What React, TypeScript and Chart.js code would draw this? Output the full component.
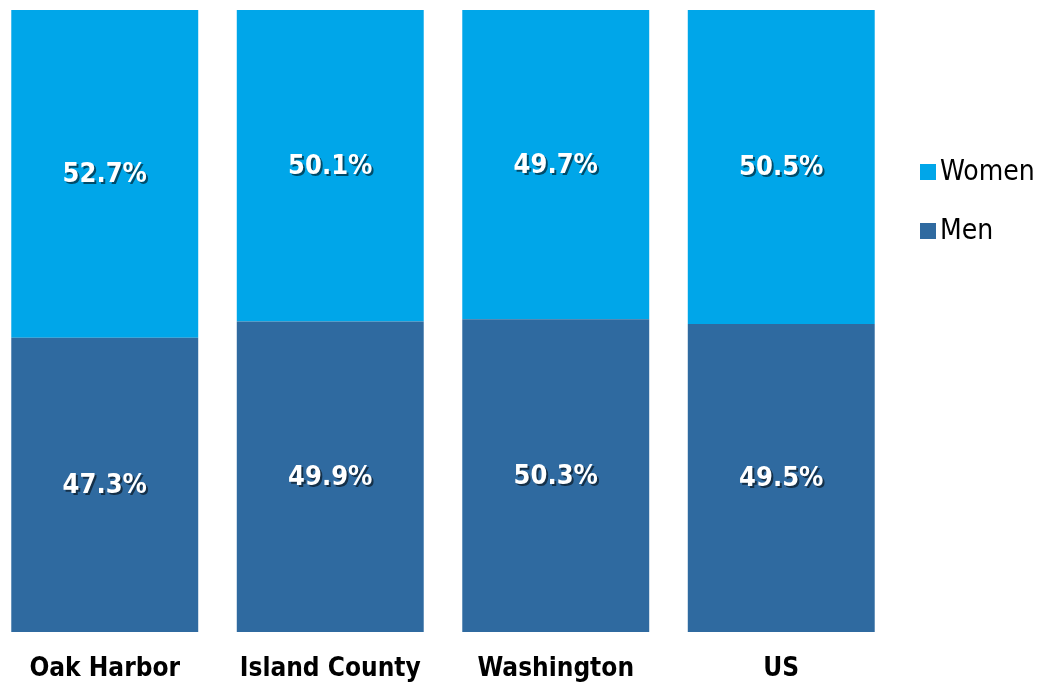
import React, { useEffect, useRef } from "react";
import { Chart, registerables } from "chart.js";

Chart.register(...registerables);

const categories = ["Oak Harbor", "Island County", "Washington", "US"];
const menValues = [47.3, 49.9, 50.3, 49.5];
const womenValues = [52.7, 50.1, 49.7, 50.5];
const seriesNames = ["Men", "Women"];
const seriesColors = ["#2F6AA0", "#00A6E9"];

const SHIFT = 8;

const labelPlugin = {
  id: "segLabels",
  afterDatasetsDraw(chart: any) {
    const ctx = chart.ctx;
    ctx.save();
    ctx.font = "bold 27px 'DejaVu Sans Condensed'";
    ctx.textAlign = "center";
    ctx.textBaseline = "middle";
    chart.data.datasets.forEach((ds: any, di: number) => {
      const meta = chart.getDatasetMeta(di);
      meta.data.forEach((bar: any, i: number) => {
        const top = Math.min(bar.y, bar.base);
        const bottom = Math.max(bar.y, bar.base);
        const cy = (top + bottom) / 2;
        const txt = ds.data[i].toFixed(1) + "%";
        ctx.fillStyle = "rgba(0,0,0,0.55)";
        ctx.fillText(txt, bar.x + 2, cy + 3);
        ctx.fillStyle = "#FFFFFF";
        ctx.fillText(txt, bar.x, cy + 1);
      });
    });
    ctx.restore();
  },
};

const legendPlugin = {
  id: "customLegend",
  afterDraw(chart: any) {
    const ctx = chart.ctx;
    ctx.save();
    ctx.font = "28px 'DejaVu Sans Condensed'";
    ctx.textAlign = "left";
    ctx.textBaseline = "middle";
    const items = [
      { name: seriesNames[1], color: seriesColors[1], y: 172 },
      { name: seriesNames[0], color: seriesColors[0], y: 231 },
    ];
    items.forEach((it) => {
      ctx.fillStyle = it.color;
      ctx.fillRect(920 + SHIFT, it.y - 8, 16, 16);
      ctx.fillStyle = "#000000";
      ctx.fillText(it.name, 940 + SHIFT, it.y + 1);
    });
    ctx.restore();
  },
};

export default function App() {
  const ref = useRef<HTMLCanvasElement>(null);
  useEffect(() => {
    if (!ref.current) return;
    const chart = new Chart(ref.current, {
      type: "bar",
      data: {
        labels: categories,
        datasets: [
          { label: seriesNames[0], data: menValues, backgroundColor: seriesColors[0] },
          { label: seriesNames[1], data: womenValues, backgroundColor: seriesColors[1] },
        ],
      },
      options: {
        animation: false,
        responsive: false,
        maintainAspectRatio: false,
        layout: { padding: { left: 0, right: 152, top: 10, bottom: 0 } },
        datasets: { bar: { categoryPercentage: 1, barPercentage: 0.829 } },
        plugins: { legend: { display: false }, tooltip: { enabled: false } },
        scales: {
          x: {
            stacked: true,
            grid: { display: false },
            border: { display: false },
            afterFit: (scale: any) => {
              scale.height = 60;
            },
            ticks: {
              color: "#000000",
              padding: 14,
              font: { family: "'DejaVu Sans Condensed'", weight: "bold", size: 26 },
            },
          },
          y: { stacked: true, min: 0, max: 100, display: false },
        },
      },
      plugins: [labelPlugin, legendPlugin],
    });
    return () => chart.destroy();
  }, []);
  return (
    <div style={{ position: "fixed", left: -SHIFT, top: 0, width: 1046 + SHIFT, height: 692 }}>
      <canvas ref={ref} width={1046 + SHIFT} height={692} style={{ display: "block" }} />
    </div>
  );
}
